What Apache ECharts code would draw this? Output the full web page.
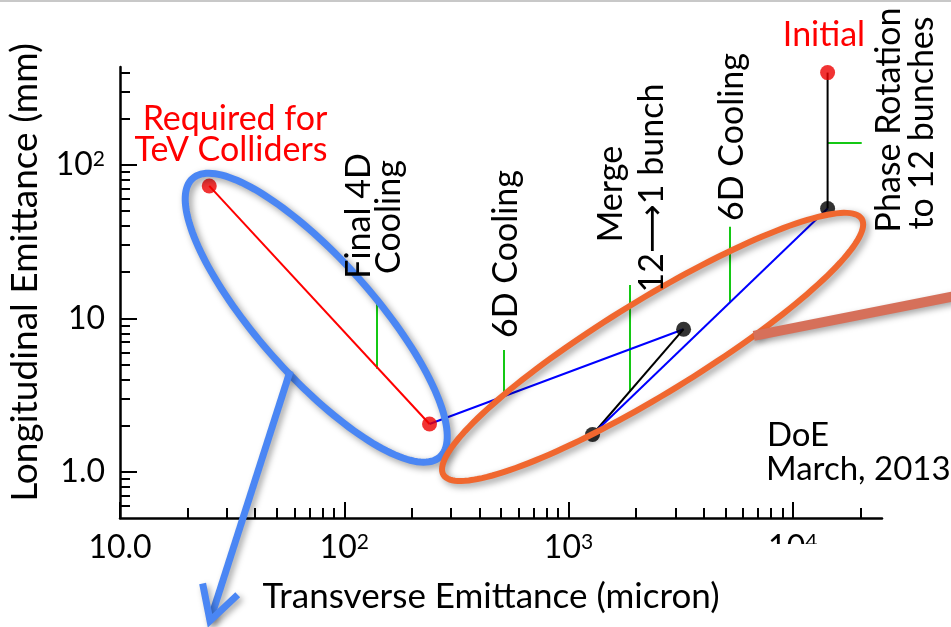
<!DOCTYPE html>
<html>
<head>
<meta charset="utf-8">
<script src="https://cdn.jsdelivr.net/npm/echarts@6/dist/echarts.min.js"></script>
<style>
html,body{margin:0;padding:0;background:#fff;}
#chart{width:951px;height:627px;}
</style>
</head>
<body>
<div id="chart"></div>
<script>
// ---------- data ----------
const xTickValues = [10, 100, 1000, 10000];
const xTickLabels = ['10.0', '10^2', '10^3', '10^4'];
const yTickValues = [1, 10, 100];
const yTickLabels = ['1.0', '10', '10^2'];
const xMinorTicks = [20, 30, 40, 50, 60, 70, 80, 90, 200, 300, 400, 500, 600, 700, 800, 900,
  2000, 3000, 4000, 5000, 6000, 7000, 8000, 9000, 20000];
const yMinorTicks = [0.6, 0.7, 0.8, 0.9, 2, 3, 4, 5, 6, 7, 8, 9, 20, 30, 40, 50, 60, 70, 80, 90, 200, 300, 400];

// cooling path (transverse micron, longitudinal mm)
const finalCoolingPath = [[25, 73], [240, 2.05]];
const cooling6DPathA = [[240, 2.05], [3260, 8.5]];
const mergePath = [[3260, 8.5], [1280, 1.75]];
const cooling6DPathB = [[1280, 1.75], [14300, 52]];
const phaseRotationPath = [[14300, 52], [14300, 400]];
const redPoints = [[25, 73], [240, 2.05], [14300, 400]];
const blackPoints = [[3260, 8.5], [1280, 1.75], [14300, 52]];

// green stage markers: [start, end]
const stageMarks = [
  [[140, 4.69], [140, 13.4]],
  [[513, 3.08], [513, 6.23]],
  [[1870, 3.32], [1870, 16.5]],
  [[5240, 12.6], [5240, 39.5]],
  [[14300, 139], [20300, 139]]
];

// annotation shapes: ellipse = [center, end of major axis, end of minor axis]
const blueEllipse = [[75, 10.1], [267, 1.25], [117, 18.0]];
const orangeEllipse = [[2371, 6.52], [20300, 44.5], [3050, 3.58]];
const blueArrow = [[57.4, 4.55], [25.2, 0.107]];
const orangeArrow = [[6700, 7.69], [84900, 16.0]];

// ---------- chart ----------
const FONT = 'Lato, "Noto Sans", "DejaVu Sans", sans-serif';
const FS = 34;

function toRich(s) {
  const p = s.split('^');
  return p.length > 1 ? '{b|' + p[0] + '}{s|' + p[1] + '}' : '{b|' + s + '}';
}
function lookup(vals, labels, v) {
  const i = vals.findIndex(t => Math.abs(t - v) / t < 1e-6);
  return i < 0 ? '' : toRich(labels[i]);
}
const richStyle = {
  b: { fontFamily: FONT, fontSize: 32, color: '#000', lineHeight: 32 },
  s: { fontFamily: FONT, fontSize: 21, color: '#000', lineHeight: 16, verticalAlign: 'top' }
};

function ellipseRender(def, layers) {
  return function (params, api) {
    const c = api.coord(def[0]), a = api.coord(def[1]), b = api.coord(def[2]);
    const pts = [];
    for (let i = 0; i <= 160; i++) {
      const t = i / 160 * 2 * Math.PI;
      pts.push([
        c[0] + Math.cos(t) * (a[0] - c[0]) + Math.sin(t) * (b[0] - c[0]),
        c[1] + Math.cos(t) * (a[1] - c[1]) + Math.sin(t) * (b[1] - c[1])
      ]);
    }
    return {
      type: 'group',
      children: layers.map(l => ({
        type: 'polygon', shape: { points: pts },
        style: Object.assign({ fill: 'none' }, l)
      }))
    };
  };
}
function arrowRender(def, color, width, head) {
  return function (params, api) {
    const s = api.coord(def[0]), e = api.coord(def[1]);
    const children = [{
      type: 'line', shape: { x1: s[0], y1: s[1], x2: e[0], y2: e[1] },
      style: { stroke: color, lineWidth: width, lineCap: 'butt',
        shadowBlur: 6, shadowColor: 'rgba(0,0,0,0.35)', shadowOffsetX: 3, shadowOffsetY: 3 }
    }];
    if (head) {
      const dx = s[0] - e[0], dy = s[1] - e[1], L = Math.hypot(dx, dy);
      const ux = dx / L, uy = dy / L, ang = 29 * Math.PI / 180, hl = 38;
      const w1 = [e[0] + hl * (ux * Math.cos(ang) - uy * Math.sin(ang)), e[1] + hl * (ux * Math.sin(ang) + uy * Math.cos(ang))];
      const w2 = [e[0] + hl * (ux * Math.cos(-ang) - uy * Math.sin(-ang)), e[1] + hl * (ux * Math.sin(-ang) + uy * Math.cos(-ang))];
      children.push({
        type: 'polyline', shape: { points: [w1, e, w2] },
        style: { stroke: color, lineWidth: width, fill: 'none', lineJoin: 'miter', lineCap: 'butt',
          shadowBlur: 6, shadowColor: 'rgba(0,0,0,0.35)', shadowOffsetX: 3, shadowOffsetY: 3 }
      });
    }
    return { type: 'group', children };
  };
}

function vtext(text, x, y, color) {
  return { type: 'text', x: x, y: y, rotation: Math.PI / 2, z: 50,
    style: { text: text, fontFamily: FONT, fontSize: FS, fill: color || '#000', align: 'center', verticalAlign: 'middle' } };
}
function htext(text, x, y, color, align, size) {
  return { type: 'text', x: x, y: y, z: 50,
    style: { text: text, fontFamily: FONT, fontSize: size || FS, fill: color || '#000', align: align || 'center', verticalAlign: 'middle' } };
}

const axisBlack = { color: '#000', width: 2.5 };
const tickBlack = { color: '#000', width: 2 };

const option = {
  animation: false,
  backgroundColor: '#fff',
  grid: { left: 120, top: 67, right: 69, bottom: 109, containLabel: false, outerBoundsMode: 'none' },
  xAxis: [
    {
      type: 'log', logBase: 10, min: 10, max: 25000, position: 'bottom',
      axisLine: { onZero: false, lineStyle: axisBlack },
      axisTick: { inside: true, length: 16, lineStyle: tickBlack, customValues: xTickValues },
      axisLabel: { customValues: xTickValues, margin: 14, formatter: v => lookup(xTickValues, xTickLabels, v), rich: richStyle },
      splitLine: { show: false },
      name: 'Transverse Emittance (micron)', nameLocation: 'middle', nameGap: 61,
      nameTextStyle: { fontFamily: FONT, fontSize: 35, color: '#000', padding: [0, 20, 0, 0] }
    },
    {
      type: 'log', logBase: 10, min: 10, max: 25000, position: 'bottom',
      axisLine: { show: false, onZero: false },
      axisTick: { inside: true, length: 10, lineStyle: tickBlack, customValues: xMinorTicks },
      axisLabel: { show: false }, splitLine: { show: false }
    }
  ],
  yAxis: [
    {
      type: 'log', logBase: 10, min: 0.5, max: 435, position: 'left',
      axisLine: { onZero: false, lineStyle: axisBlack },
      axisTick: { inside: true, length: 17, lineStyle: tickBlack, customValues: yTickValues },
      axisLabel: { customValues: yTickValues, margin: 15, formatter: v => lookup(yTickValues, yTickLabels, v), rich: richStyle },
      splitLine: { show: false },
      name: 'Longitudinal Emittance (mm)', nameLocation: 'middle', nameGap: 76,
      nameTextStyle: { fontFamily: FONT, fontSize: 37, color: '#000', padding: [0, 0, 0, 40] }
    },
    {
      type: 'log', logBase: 10, min: 0.5, max: 435, position: 'left',
      axisLine: { show: false, onZero: false },
      axisTick: { inside: true, length: 10, lineStyle: tickBlack, customValues: yMinorTicks },
      axisLabel: { show: false }, splitLine: { show: false }
    }
  ],
  series: [
    { type: 'lines', coordinateSystem: 'cartesian2d', z: 2,
      lineStyle: { color: '#14c814', width: 2, opacity: 1 },
      data: stageMarks.map(m => ({ coords: m })) },
    { type: 'line', data: finalCoolingPath, symbol: 'none', z: 3, lineStyle: { color: '#ff0000', width: 2 } },
    { type: 'line', data: cooling6DPathA, symbol: 'none', z: 3, lineStyle: { color: '#0000ff', width: 2 } },
    { type: 'line', data: mergePath, symbol: 'none', z: 3, lineStyle: { color: '#000', width: 2 } },
    { type: 'line', data: cooling6DPathB, symbol: 'none', z: 3, lineStyle: { color: '#0000ff', width: 2 } },
    { type: 'line', data: phaseRotationPath, symbol: 'none', z: 3, lineStyle: { color: '#000', width: 2 } },
    { type: 'scatter', data: redPoints, symbolSize: 15, z: 4, itemStyle: { color: '#ee0000' } },
    { type: 'scatter', data: blackPoints, symbolSize: 15, z: 4, itemStyle: { color: '#000' } },
    { type: 'custom', z: 10, clip: false, data: [[100, 10]],
      renderItem: ellipseRender(blueEllipse, [
        { stroke: '#4a86f4', lineWidth: 7, shadowBlur: 7, shadowColor: 'rgba(0,0,0,0.4)', shadowOffsetX: 3, shadowOffsetY: 3 }
      ]) },
    { type: 'custom', z: 10, clip: false, data: [[100, 10]],
      renderItem: ellipseRender(orangeEllipse, [
        { stroke: '#f0672f', lineWidth: 6, shadowBlur: 7, shadowColor: 'rgba(0,0,0,0.4)', shadowOffsetX: 3, shadowOffsetY: 3 }
      ]) },
    { type: 'custom', z: 11, clip: false, data: [[100, 10]],
      renderItem: arrowRender(blueArrow, '#4a86f4', 7, true) },
    { type: 'custom', z: 11, clip: false, data: [[100, 10]],
      renderItem: arrowRender(orangeArrow, '#d6705a', 10, false) }
  ],
  graphic: [
    { type: 'rect', shape: { x: 0, y: 0, width: 951, height: 2 }, style: { fill: '#c8c8c8' }, z: 60 },
    { type: 'rect', shape: { x: 765, y: 544, width: 60, height: 30 }, style: { fill: '#fff' }, z: 60 },
    htext('Required for', 235, 119, '#ff0000'),
    htext('TeV Colliders', 231, 150, '#ff0000'),
    htext('Initial', 824, 35, '#ff0000'),
    vtext('Final 4D', 359, 216),
    vtext('Cooling', 389, 217),
    vtext('6D Cooling', 506, 254),
    vtext('Merge', 611, 194),
    vtext('12\u27f61 bunch', 652, 188),
    vtext('6D Cooling', 732, 137),
    vtext('Phase Rotation', 889, 120),
    vtext('to 12 bunches', 922, 123),
    htext('DoE', 767, 435, '#000', 'left', 33),
    htext('March, 2013', 766, 469, '#000', 'left', 33)
  ]
};

const chart = echarts.init(document.getElementById('chart'), null, { renderer: 'canvas' });
chart.setOption(option);
</script>
</body>
</html>
